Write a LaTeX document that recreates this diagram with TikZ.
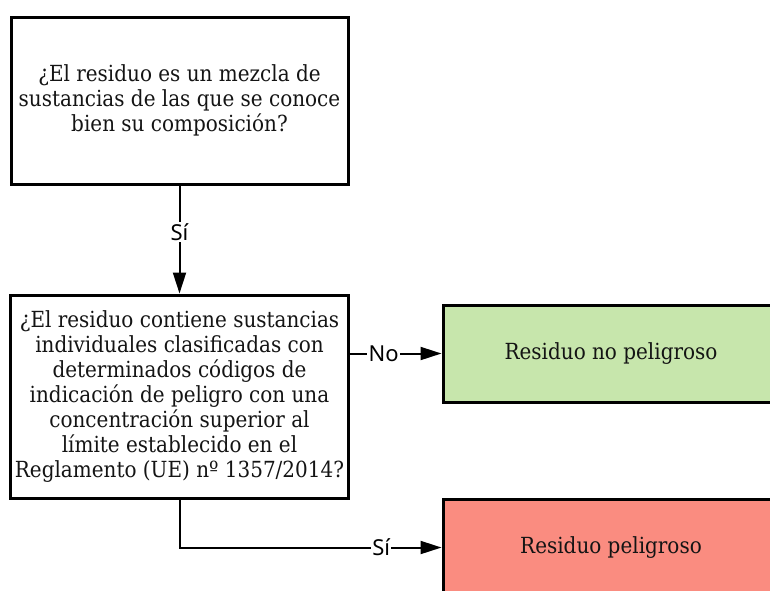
\documentclass[tikz,border=0pt]{standalone}
\usepackage{fontspec}
\setmainfont{DejaVu Serif}[FakeStretch=0.9]
\newfontfamily\labelfont{Noto Sans}
\usetikzlibrary{positioning, arrows}
\usetikzlibrary{arrows.meta}

\definecolor{okgreen}{RGB}{199,230,172}
\definecolor{badred}{RGB}{250,140,128}

\begin{document}
\begin{tikzpicture}[x=0.5pt, y=-0.5pt, >={Triangle[length=10.5pt,width=6.5pt]},
    box/.style={draw, line width=1.5pt, align=center, inner xsep=2pt, text=black!92, font=\fontsize{11.1}{12.5}\selectfont},
    edge/.style={->, line width=1pt},
    answer/.style={fill=white, inner sep=0.6pt, font=\labelfont\fontsize{11}{12}\selectfont}]

    % Frame of the picture
    \useasboundingbox (0,0) rectangle (770,590);
    \clip (0,0) rectangle (770,590);

    % Define nodes
    \node[box, minimum width=168.5pt, minimum height=83.5pt] (mix) at (179.5,100.5)
        {¿El residuo es un mezcla de\\ sustancias de las que se conoce\\ bien su composición?};
    \node[box, minimum width=168.5pt, minimum height=101.5pt] (limit) at (179.5,396.5)
        {¿El residuo contiene sustancias\\ individuales clasificadas con\\ determinados códigos de\\ indicación de peligro con una\\ concentración superior al\\ límite establecido en el\\ Reglamento (UE) nº 1357/2014?};
    \node[box, fill=okgreen, minimum width=168pt, minimum height=48.5pt] (safe) at (611,353.5)
        {Residuo no peligroso};
    \node[box, fill=badred, minimum width=168pt, minimum height=48.5pt] (danger) at (611,547.5)
        {Residuo peligroso};

    % Draw edges with arrows
    \draw[edge] (mix) -- node[answer, pos=0.43] {Sí} (limit);
    \draw[edge] (limit.east |- safe.west) -- node[answer, pos=0.37] {No} (safe.west);
    \draw[edge] (limit.south) |- node[answer, pos=0.885] {Sí} (danger.west);

\end{tikzpicture}
\end{document}
